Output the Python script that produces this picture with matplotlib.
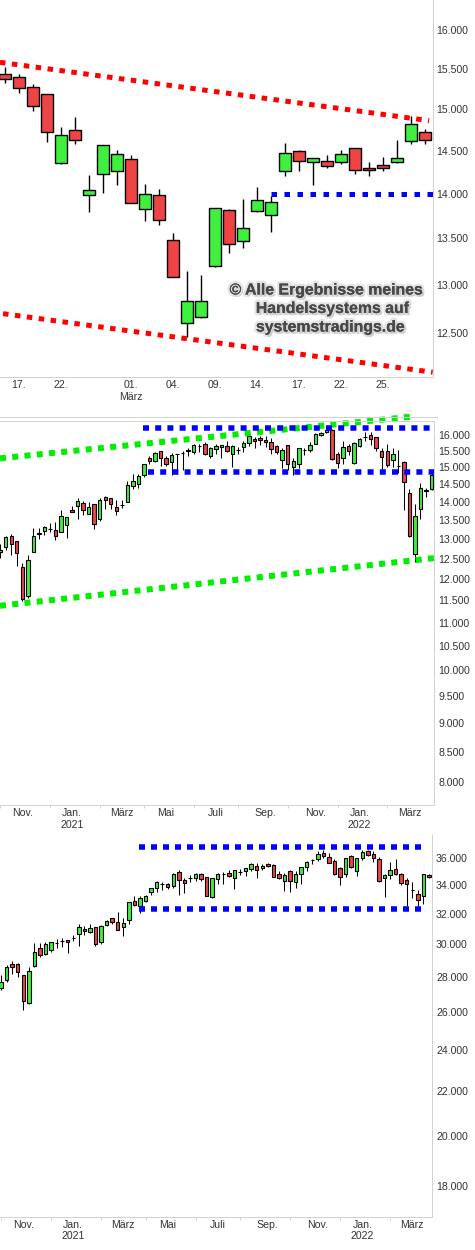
import matplotlib
matplotlib.use('Agg')
import matplotlib.pyplot as plt
from matplotlib.lines import Line2D
from matplotlib.ticker import NullLocator
import matplotlib.patheffects as pe

plt.rcParams['font.family'] = ['Liberation Sans', 'DejaVu Sans']

# ---------------- data: top panel (daily, 16 Feb - 30 Mar 2022) ----------------
top_open = [15430, 15396, 15271, 15184, 14353, 14744, 13984, 14225, 14260, 14400,
            13825, 13985, 13481, 12599, 12660, 13204, 13813, 13473, 13808, 13760,
            14267, 14493, 14365, 14376, 14365, 14529, 14294, 14330, 14365, 14614, 14720]
top_high = [15530, 15437, 15312, 15190, 14785, 14906, 14217, 14570, 14509, 14450,
            14112, 14052, 13557, 13144, 13101, 13840, 13825, 13946, 14082, 13970,
            14591, 14505, 14415, 14446, 14505, 14530, 14365, 14424, 14628, 14920, 14757]
top_low = [15320, 15204, 14978, 14608, 14350, 14583, 13798, 14013, 14098, 13890,
           13698, 13654, 13078, 12456, 12655, 13187, 13340, 13400, 13795, 13570,
           14204, 14267, 14098, 14296, 14340, 14225, 14204, 14267, 14360, 14580, 14580]
top_close = [15372, 15258, 15035, 14720, 14684, 14625, 14040, 14565, 14460, 13894,
             13996, 13700, 13080, 12827, 12827, 13836, 13437, 13620, 13928, 13905,
             14472, 14376, 14412, 14322, 14465, 14271, 14271, 14294, 14412, 14820, 14625]
top_xtick_pos = [1, 4, 9, 12, 15, 18, 21, 24, 27]
top_xtick_lab = ['17.', '22.', '01.\nMärz', '04.', '09.', '14.', '17.', '22.', '25.']
top_yticks = [12500, 13000, 13500, 14000, 14500, 15000, 15500, 16000]
top_res_x = [-0.357, 30.3]
top_res_y = [15584, 14860]
top_sup_x = [-0.14, 30.55]
top_sup_y = [12697, 12105]
top_blue_x = [19.0, 30.6]
top_blue_y = [14000, 14000]

# ---------------- data: middle panel (weekly DAX) ----------------
mid_open = [12660, 12803, 13070, 12941, 12285, 11595, 12676, 13122, 13209, 13270,
            13227, 13191, 13379, 13767, 13878, 13961, 13675, 13934, 13539, 14128,
            14100, 13850, 13920, 14008, 14462, 14519, 14779, 15283, 15202, 15487,
            15273, 15171, 15395, 15426, 15538, 15477, 15664, 15706, 15355, 15548,
            15622, 15643, 15395, 15538, 15611, 15748, 15874, 15906, 15843, 15790,
            15664, 15222, 15674, 15020, 15089, 15518, 15538, 15727, 16011, 16084,
            16171, 15395, 15293, 15643, 15120, 15664, 15927, 16000, 15927, 15487,
            15487, 15212, 15040, 15151, 14243, 12610, 13813, 14348, 14357]
mid_high = [12863, 13087, 13131, 12950, 12384, 12593, 13298, 13280, 13343, 13414,
            13441, 13767, 13580, 13887, 14110, 14026, 14008, 13940, 14100, 14166,
            14105, 14054, 14054, 14596, 14788, 14788, 15095, 15334, 15477, 15497,
            15344, 15426, 15400, 15497, 15600, 15706, 15716, 15790, 15632, 15727,
            15690, 15811, 15674, 15622, 15822, 16022, 15937, 15980, 15980, 15916,
            15685, 15600, 15680, 15273, 15585, 15600, 15769, 16053, 16106, 16236,
            16180, 15477, 15811, 15706, 15769, 15895, 16084, 16084, 15935, 15579,
            15716, 15579, 15528, 15192, 14376, 13934, 14529, 14386, 14921]
mid_low = [12526, 12718, 12593, 12326, 11495, 11548, 12660, 13001, 13105, 13174,
           12975, 13174, 13036, 13710, 13539, 13638, 13670, 13271, 13477, 13804,
           13804, 13638, 13841, 13989, 14376, 14405, 14720, 15110, 15151, 15039,
           15049, 14773, 14813, 14921, 15334, 15395, 15457, 15385, 15273, 15416,
           15273, 15457, 15008, 15405, 15457, 15664, 15600, 15674, 15632, 15416,
           15416, 14970, 14921, 14773, 14970, 15375, 15457, 15706, 15958, 16053,
           15212, 14990, 15100, 15375, 15089, 15632, 15822, 15695, 15497, 14950,
           15020, 15020, 14823, 13777, 13062, 12426, 13530, 14148, 14350]
mid_close = [12710, 13044, 12881, 12635, 11540, 12459, 13070, 13157, 13307, 13270,
             13087, 13602, 13575, 13712, 14017, 13767, 13850, 13406, 14045, 14045,
             13952, 13758, 13920, 14471, 14586, 14730, 15089, 15202, 15426, 15273,
             15110, 15365, 15395, 15426, 15487, 15674, 15664, 15416, 15579, 15643,
             15685, 15507, 15643, 15538, 15748, 15958, 15801, 15832, 15769, 15569,
             15457, 15528, 15110, 15181, 15579, 15518, 15674, 16022, 16074, 16171,
             15243, 15141, 15611, 15507, 15737, 15864, 15927, 15864, 15579, 15304,
             15069, 15395, 15040, 14566, 13070, 13611, 14386, 14300, 14773]
mid_xtick_pos = [4, 13, 22, 30, 39, 48, 57, 65, 74]
mid_xtick_lab = ['Nov.', 'Jan.\n2021', 'März', 'Mai', 'Juli', 'Sep.', 'Nov.', 'Jan.\n2022', 'März']
mid_minor_pos = [0, 9, 18, 26, 35, 43, 52, 61, 70]
mid_yticks = [8000, 8500, 9000, 9500, 10000, 10500, 11000, 11500, 12000, 12500,
              13000, 13500, 14000, 14500, 15000, 15500, 16000]
mid_up_x = [-0.03, 74.65]
mid_up_y = [15273, 16602]
mid_lo_x = [-0.03, 78.45]
mid_lo_y = [11379, 12515]
mid_blue_hi_x = [25.77, 77.7]
mid_blue_hi_y = [16215, 16215]
mid_blue_lo_x = [26.68, 78.45]
mid_blue_lo_y = [14870, 14870]

# ---------------- data: bottom panel (weekly Dow) ----------------
bot_open = [27376, 27846, 28764, 28764, 28122, 26520, 28682, 29775, 29419, 29627,
            30095, 30223, 30265, 30413, 30692, 30999, 30824, 31109, 30180, 31285,
            31703, 31439, 31153, 31571, 32866, 32569, 32913, 33549, 33785, 34118,
            34070, 33974, 34950, 34363, 34558, 34558, 34804, 34582, 33149, 34484,
            34853, 34877, 34558, 34975, 35072, 35167, 35446, 35243, 35547, 35471,
            34804, 34338, 35021, 34265, 34804, 35319, 35850, 35926, 36383, 36079,
            35774, 35243, 34853, 36155, 35021, 36003, 36535, 36307, 35926, 34509,
            34731, 35167, 34804, 34363, 33643, 33361, 33220, 34731]
bot_high = [28122, 28723, 28969, 28867, 28130, 28600, 30095, 30095, 30138, 30185,
            30350, 30392, 30270, 30604, 31351, 31175, 31329, 31115, 31263, 31593,
            31710, 32136, 31703, 32800, 33243, 33243, 33314, 33790, 34314, 34216,
            34192, 34902, 35121, 34509, 34755, 34902, 34877, 34590, 34515, 34877,
            35000, 35121, 35145, 35194, 35294, 35648, 35648, 35572, 35622, 35572,
            35046, 34877, 35097, 35046, 35370, 35800, 35951, 36561, 36640, 36383,
            35977, 35319, 36010, 36231, 36010, 36640, 36640, 36561, 36104, 34804,
            35698, 35951, 34926, 34509, 34216, 33643, 34810, 34804]
bot_low = [27223, 27727, 28201, 28023, 26133, 26465, 28600, 29235, 29337, 29501,
           29754, 29817, 29460, 30244, 29920, 30604, 30736, 29882, 30053, 31197,
           31307, 30950, 30562, 31351, 32523, 32092, 32842, 33314, 33549, 33667,
           33738, 33785, 33314, 33478, 34265, 34314, 34338, 33260, 33102, 34094,
           34094, 34607, 33761, 34755, 34706, 35046, 34558, 35145, 35319, 34630,
           34484, 33596, 33549, 33832, 34094, 35072, 35547, 35800, 36054, 35620,
           34731, 34045, 34633, 35294, 34706, 35901, 36155, 35698, 34265, 33196,
           34436, 34731, 34021, 32569, 33125, 32569, 32705, 34533]
bot_close = [27687, 28580, 28620, 28320, 26594, 28360, 29501, 29316, 30011, 30180,
             30095, 30223, 30138, 30413, 31109, 30846, 31043, 30011, 31175, 31505,
             31483, 30956, 31417, 32796, 32637, 33078, 33220, 33785, 34216, 34118,
             33879, 34804, 34411, 34192, 34558, 34804, 34484, 33267, 34509, 34804,
             34853, 34706, 35097, 34975, 35243, 35547, 35145, 35446, 35395, 34633,
             34558, 34780, 34338, 34828, 35319, 35698, 35850, 36307, 36155, 35622,
             34804, 34582, 36003, 35370, 36003, 36458, 36231, 36003, 34289, 34731,
             35097, 34804, 34143, 34070, 33643, 32936, 34804, 34582]
bot_xtick_pos = [4, 13, 22, 30, 39, 48, 57, 65, 74]
bot_xtick_lab = ['Nov.', 'Jan.\n2021', 'März', 'Mai', 'Juli', 'Sep.', 'Nov.', 'Jan.\n2022', 'März']
bot_minor_pos = [0, 9, 18, 26, 35, 43, 52, 61, 70]
bot_yticks = [18000, 20000, 22000, 24000, 26000, 28000, 30000, 32000, 34000, 36000]
bot_blue_hi_x = [24.83, 75.75]
bot_blue_hi_y = [36887, 36887]
bot_blue_lo_x = [24.83, 75.75]
bot_blue_lo_y = [32350, 32350]

# ---------------- styling ----------------
GREEN = '#3ff03f'
RED = '#ef4444'
AXC = '#d2d2d2'
TXT = '#333333'
W, H = 475, 1250
PT = 0.72  # points per pixel at 100 dpi

fig = plt.figure(figsize=(W / 100, H / 100), dpi=100)


def ax_px(x0, y0, x1, y1):
    return fig.add_axes([x0 / W, 1 - y1 / H, (x1 - x0) / W, (y1 - y0) / H])


def line_px(x0, y0, x1, y1, color=AXC, lw=1.0):
    fig.add_artist(Line2D([x0 / W, x1 / W], [1 - y0 / H, 1 - y1 / H],
                          transform=fig.transFigure, color=color, lw=lw * PT))


def fmt(v):
    return f'{v:,}'.replace(',', '.')


def candles(ax, o, h, l, c, width, lw_edge, lw_wick):
    x = list(range(len(o)))
    ax.vlines(x, l, h, color='black', lw=lw_wick, zorder=2)
    bottoms = [min(a, b) for a, b in zip(o, c)]
    heights = [abs(b - a) for a, b in zip(o, c)]
    cols = [GREEN if b >= a else RED for a, b in zip(o, c)]
    ax.bar(x, heights, bottom=bottoms, width=width, color=cols,
           edgecolor='black', linewidth=lw_edge, zorder=3)


def dotted(ax, xs, ys, color, lw_px, on_px, off_px, clip=True):
    ax.plot(xs, ys, color=color, lw=lw_px * PT,
            linestyle=(0, (on_px / lw_px, off_px / lw_px)),
            dash_capstyle='butt', zorder=4, clip_on=clip)


def style_axes(ax, yt, xpos, xlab, ypad, xpad, minor=None):
    for s in ax.spines.values():
        s.set_visible(False)
    ax.set_yscale('log')
    ax.yaxis.tick_right()
    ax.set_yticks(yt)
    ax.set_yticklabels([fmt(v) for v in yt])
    ax.yaxis.set_minor_locator(NullLocator())
    ax.tick_params(axis='y', which='both', length=0, pad=ypad, labelsize=7.6,
                   labelcolor=TXT)
    ax.set_xticks(xpos)
    ax.set_xticklabels(xlab)
    ax.tick_params(axis='x', which='major', length=0, pad=xpad, labelsize=7.6,
                   labelcolor=TXT)
    if minor is not None:
        ax.set_xticks(minor, minor=True)
        ax.tick_params(axis='x', which='minor', length=2.5, width=0.7, color=AXC)
    ax.set_facecolor('none')


# ---------------- top panel ----------------
ax1 = ax_px(0, 0, 432.5, 377)
candles(ax1, top_open, top_high, top_low, top_close, 0.84, 1.0, 1.0)
ax1.set_xlim(-0.357, 30.54)
ax1.set_ylim(12058, 16396)
style_axes(ax1, top_yticks, top_xtick_pos, top_xtick_lab, 3.0, 2.2)
dotted(ax1, top_res_x, top_res_y, '#ff0000', 5.0, 5.5, 6.5)
dotted(ax1, top_sup_x, top_sup_y, '#ff0000', 5.0, 5.5, 6.5)
dotted(ax1, top_blue_x, top_blue_y, '#0000ff', 5.0, 5.5, 7.5)
line_px(432.5, 0, 432.5, 377)
line_px(0, 377, 432.5, 377)

wm_fx = [pe.withSimplePatchShadow(offset=(1.5, -1.5), shadow_rgbFace='#888888', alpha=0.45),
         pe.withStroke(linewidth=3.5, foreground='#d0d0d0', alpha=0.55), pe.Normal()]
for txt, cx, cy in [('© Alle Ergebnisse meines', 326, 290),
                    ('Handelssystems auf', 332.5, 308.5),
                    ('systemstradings.de', 330.5, 327)]:
    fig.text(cx / W, 1 - cy / H, txt, ha='center', va='center', fontsize=11.4,
             fontweight='bold', color='#484848', path_effects=wm_fx, zorder=10)

# ---------------- middle panel ----------------
ax2 = ax_px(0, 415, 434, 805)
candles(ax2, mid_open, mid_high, mid_low, mid_close, 0.62, 0.8, 0.75)
ax2.set_xlim(-0.033, 78.45)
ax2.set_ylim(7645, 16652)
style_axes(ax2, mid_yticks, mid_xtick_pos, mid_xtick_lab, 3.0, 2.2, mid_minor_pos)
dotted(ax2, mid_up_x, mid_up_y, '#00ee00', 6.0, 6.0, 6.3, clip=False)
dotted(ax2, mid_lo_x, mid_lo_y, '#00ee00', 6.0, 6.0, 6.3)
dotted(ax2, mid_blue_hi_x, mid_blue_hi_y, '#0000ff', 5.5, 6.0, 6.2)
dotted(ax2, mid_blue_lo_x, mid_blue_lo_y, '#0000ff', 5.5, 6.0, 6.2)
line_px(0, 417.3, 437, 417.3)
line_px(0, 420.7, 434, 420.7)
line_px(434, 420.7, 434, 805)
line_px(0, 805, 434, 805)

# ---------------- bottom panel ----------------
ax3 = ax_px(0, 835, 432.3, 1216.7)
candles(ax3, bot_open, bot_high, bot_low, bot_close, 0.62, 0.8, 0.75)
ax3.set_xlim(-0.18, 77.6)
ax3.set_ylim(16856, 37820)
style_axes(ax3, bot_yticks, bot_xtick_pos, bot_xtick_lab, 2.7, 2.2, bot_minor_pos)
dotted(ax3, bot_blue_hi_x, bot_blue_hi_y, '#0000ff', 5.5, 6.0, 6.0)
dotted(ax3, bot_blue_lo_x, bot_blue_lo_y, '#0000ff', 5.5, 6.0, 6.0)
line_px(432.3, 835, 432.3, 1216.7)
line_px(0, 1216.7, 432.3, 1216.7)

fig.savefig('out.png', dpi=100, facecolor='white')
